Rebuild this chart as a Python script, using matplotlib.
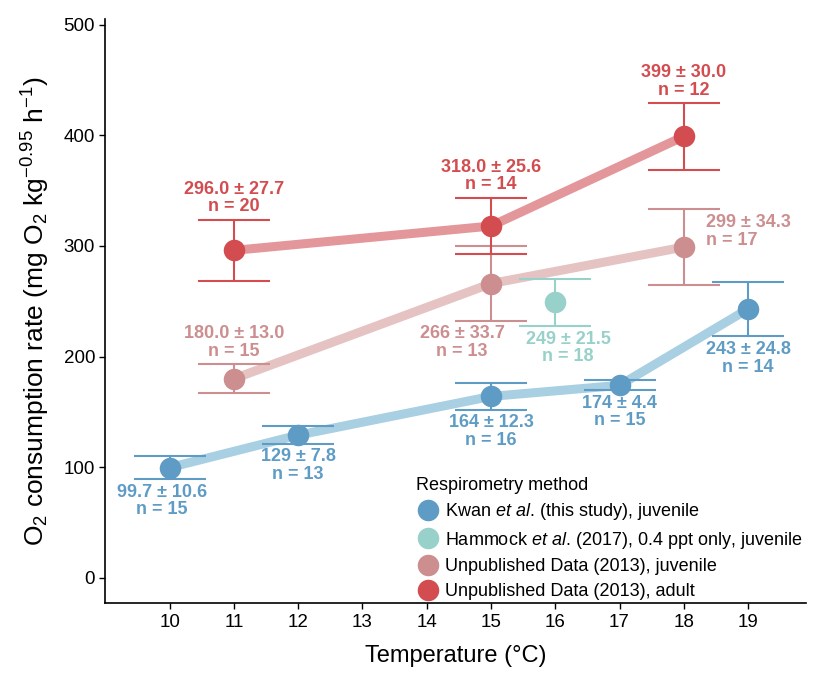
import matplotlib.pyplot as plt

plt.rcParams['font.family'] = ['Liberation Sans', 'DejaVu Sans']
plt.rcParams['mathtext.fontset'] = 'custom'
plt.rcParams['mathtext.rm'] = 'Liberation Sans'
plt.rcParams['mathtext.it'] = 'Liberation Sans:italic'

# Kwan et al. (this study), juvenile
kwan_t = [10, 12, 15, 17, 19]
kwan_y = [99.7, 129, 164, 174, 243]
kwan_e = [10.6, 7.8, 12.3, 4.4, 24.8]
kwan_lbl = ['99.7 ± 10.6\nn = 15', '129 ± 7.8\nn = 13', '164 ± 12.3\nn = 16',
            '174 ± 4.4\nn = 15', '243 ± 24.8\nn = 14']

# Hammock et al. (2017)
ham_t = [16]
ham_y = [249]
ham_e = [21.5]
ham_lbl = ['249 ± 21.5\nn = 18']

# Unpublished juvenile
juv_t = [11, 15, 18]
juv_y = [180, 266, 299]
juv_e = [13.0, 33.7, 34.3]
juv_lbl = ['180.0 ± 13.0\nn = 15', '266 ± 33.7\nn = 13', '299 ± 34.3\nn = 17']

# Unpublished adult
ad_t = [11, 15, 18]
ad_y = [296, 318, 399]
ad_e = [27.7, 25.6, 30.0]
ad_lbl = ['296.0 ± 27.7\nn = 20', '318.0 ± 25.6\nn = 14', '399 ± 30.0\nn = 12']

c_kwan, c_kwan_l = '#5f9cc5', '#a8cfe2'
c_ham = '#97d1c9'
c_juv, c_juv_l = '#cc8e8f', '#e5c3c3'
c_ad, c_ad_l = '#d34c4f', '#e3979a'

fig, ax = plt.subplots(figsize=(8.24, 6.84), dpi=100)
fig.subplots_adjust(left=0.128, right=0.978, top=0.972, bottom=0.118)

lab_font = dict(fontweight='bold', fontsize=13, ha='center', linespacing=1.05)


def series(t, y, e, col, lcol, name):
    if lcol is not None:
        ax.plot(t, y, color=lcol, lw=6.5, solid_capstyle='round', zorder=1)
    ax.errorbar(t, y, yerr=e, fmt='none', ecolor=col, elinewidth=1.5,
                capsize=26, capthick=1.5, zorder=2)
    ax.plot(t, y, 'o', color=col, ms=15.5, zorder=3, label=name, mec='none')


series(kwan_t, kwan_y, kwan_e, c_kwan, c_kwan_l, r'Kwan $\it{et\ al.}\,$(this study), juvenile')
series(ham_t, ham_y, ham_e, c_ham, None, r'Hammock $\it{et\ al.}\,$(2017), 0.4 ppt only, juvenile')
series(juv_t, juv_y, juv_e, c_juv, c_juv_l, 'Unpublished Data (2013), juvenile')
series(ad_t, ad_y, ad_e, c_ad, c_ad_l, 'Unpublished Data (2013), adult')

# value labels
for t, y, e, s in zip(kwan_t, kwan_y, kwan_e, kwan_lbl):
    dx = -0.12 if t == 10 else 0
    ax.text(t + dx, y - e - 4, s, va='top', color=c_kwan, **lab_font)
ax.text(ham_t[0] + 0.2, ham_y[0] - ham_e[0] - 4, ham_lbl[0], va='top', color=c_ham, **lab_font)
ax.text(11, juv_y[0] + juv_e[0] + 4, juv_lbl[0], va='bottom', color=c_juv, **lab_font)
ax.text(14.55, juv_y[1] - juv_e[1] - 4, juv_lbl[1], va='top', color=c_juv, **lab_font)
ax.text(18.35, juv_y[2] + 14, juv_lbl[2], va='center', ha='left', color=c_juv,
        fontweight='bold', fontsize=13, linespacing=1.05)
for t, y, e, s in zip(ad_t, ad_y, ad_e, ad_lbl):
    ax.text(t, y + e + 4, s, va='bottom', color=c_ad, **lab_font)

ax.set_xlim(9, 19.9)
ax.set_ylim(-23, 505)
ax.set_xticks(range(10, 20))
ax.set_yticks([0, 100, 200, 300, 400, 500])
ax.tick_params(labelsize=13.5, length=4, width=1)
ax.spines['top'].set_visible(False)
ax.spines['right'].set_visible(False)
ax.spines['left'].set_linewidth(1.2)
ax.spines['bottom'].set_linewidth(1.2)
ax.set_xlabel('Temperature (°C)', fontsize=17, labelpad=10)
ax.set_ylabel(r'O$_2$ consumption rate (mg O$_2$ kg$^{-0.95}$ h$^{-1}$)', fontsize=19, labelpad=8)

leg = ax.legend(title='Respirometry method', loc='lower left', bbox_to_anchor=(0.42, -0.022),
                frameon=False, fontsize=13, title_fontsize=13, handletextpad=0.3,
                labelspacing=0.42, markerscale=1.0, handlelength=1.3)
leg._legend_box.align = 'left'

fig.savefig('out.png', dpi=100)
